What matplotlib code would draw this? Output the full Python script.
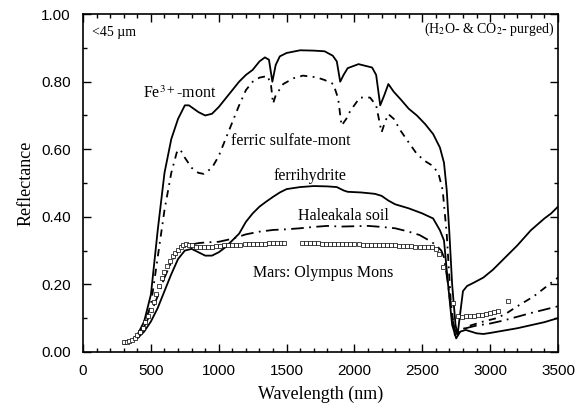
import numpy as np
import matplotlib
matplotlib.use("Agg")
import matplotlib.pyplot as plt
from matplotlib.ticker import MultipleLocator, FormatStrFormatter

plt.rcParams['mathtext.fontset'] = 'stix'

# Fe3+-montmorillonite (solid)
fe_wl = [300, 350, 400, 450, 500, 550, 600, 650, 700, 750, 780, 850, 900, 950, 1000,
         1050, 1100, 1150, 1200, 1250, 1300, 1340, 1370, 1395, 1420, 1450, 1500, 1600,
         1700, 1780, 1840, 1870, 1895, 1920, 1950, 2030, 2130, 2160, 2190, 2220, 2250,
         2290, 2340, 2400, 2460, 2520, 2580, 2630, 2660, 2680, 2700, 2720, 2745, 2760,
         2775, 2800, 2830, 2880, 2950, 3020, 3100, 3200, 3300, 3400, 3450, 3500]
fe_r = [0.025, 0.03, 0.05, 0.09, 0.17, 0.36, 0.53, 0.63, 0.69, 0.73, 0.73, 0.71, 0.70,
        0.705, 0.725, 0.75, 0.775, 0.80, 0.82, 0.835, 0.86, 0.872, 0.865, 0.80, 0.85,
        0.875, 0.885, 0.893, 0.892, 0.89, 0.877, 0.86, 0.80, 0.82, 0.84, 0.852, 0.842,
        0.82, 0.73, 0.76, 0.793, 0.77, 0.748, 0.72, 0.70, 0.675, 0.645, 0.605, 0.56,
        0.48, 0.35, 0.20, 0.08, 0.05, 0.10, 0.18, 0.195, 0.205, 0.22, 0.243, 0.275,
        0.315, 0.36, 0.395, 0.41, 0.43]

# ferric sulfate-montmorillonite (dash-dot)
fs_wl = [300, 350, 400, 450, 500, 550, 600, 650, 690, 715, 750, 800, 850, 890, 950,
         1000, 1050, 1100, 1150, 1200, 1250, 1300, 1360, 1385, 1400, 1420, 1475, 1550,
         1620, 1720, 1780, 1845, 1880, 1905, 1940, 1970, 2040, 2115, 2160, 2200, 2225,
         2250, 2290, 2340, 2400, 2460, 2520, 2580, 2620, 2650, 2680, 2710, 2740, 2770,
         2830, 2950, 3050, 3120, 3200, 3320, 3420, 3500]
fs_r = [0.025, 0.03, 0.045, 0.08, 0.14, 0.28, 0.42, 0.53, 0.59, 0.60, 0.575, 0.545,
        0.53, 0.527, 0.545, 0.58, 0.63, 0.68, 0.73, 0.775, 0.80, 0.812, 0.817, 0.79,
        0.735, 0.76, 0.793, 0.81, 0.818, 0.813, 0.805, 0.793, 0.75, 0.67, 0.69, 0.714,
        0.753, 0.753, 0.73, 0.65, 0.68, 0.704, 0.69, 0.655, 0.62, 0.586, 0.565, 0.55,
        0.527, 0.48, 0.35, 0.15, 0.05, 0.06, 0.075, 0.09, 0.10, 0.114, 0.135, 0.164,
        0.195, 0.22]

# ferrihydrite (solid)
fh_wl = [300, 350, 400, 450, 500, 550, 600, 650, 700, 750, 800, 850, 900, 950, 1000,
         1050, 1100, 1150, 1200, 1250, 1300, 1350, 1400, 1450, 1500, 1600, 1700, 1800,
         1870, 1920, 1950, 2050, 2150, 2200, 2250, 2300, 2400, 2500, 2580, 2630, 2660,
         2690, 2720, 2750, 2780, 2820, 2900, 2950, 3000, 3100, 3200, 3300, 3400, 3500]
fh_r = [0.025, 0.03, 0.04, 0.06, 0.09, 0.13, 0.18, 0.23, 0.275, 0.30, 0.305, 0.295,
        0.285, 0.285, 0.295, 0.31, 0.33, 0.35, 0.385, 0.41, 0.43, 0.445, 0.459, 0.472,
        0.482, 0.488, 0.491, 0.49, 0.488, 0.478, 0.474, 0.472, 0.468, 0.462, 0.448,
        0.437, 0.425, 0.41, 0.395, 0.36, 0.33, 0.20, 0.08, 0.04, 0.06, 0.065, 0.055,
        0.053, 0.056, 0.063, 0.07, 0.079, 0.088, 0.10]

# Haleakala soil (long dash-dot)
hs_wl = [300, 350, 400, 450, 500, 550, 600, 650, 700, 750, 800, 850, 900, 1000, 1100,
         1200, 1300, 1400, 1500, 1600, 1700, 1800, 1900, 2000, 2100, 2200, 2300, 2400,
         2480, 2550, 2600, 2640, 2660, 2690, 2720, 2750, 2780, 2820, 2900, 3000, 3100,
         3200, 3300, 3400, 3500]
hs_r = [0.025, 0.03, 0.045, 0.075, 0.115, 0.165, 0.22, 0.265, 0.30, 0.315, 0.318,
        0.322, 0.324, 0.326, 0.335, 0.348, 0.356, 0.361, 0.363, 0.366, 0.37, 0.373,
        0.371, 0.372, 0.373, 0.37, 0.366, 0.356, 0.346, 0.33, 0.317, 0.30, 0.28, 0.20,
        0.10, 0.05, 0.06, 0.07, 0.078, 0.084, 0.093, 0.104, 0.115, 0.125, 0.135]

# Mars: Olympus Mons (open squares)
mars_wl = [300, 320, 340, 360, 380, 400, 420, 440, 460, 480, 500, 520, 540, 560, 580,
           600, 620, 640, 660, 680, 700, 720, 740, 760, 780, 800, 830, 860, 890, 920,
           950, 980, 1010, 1040, 1070, 1100, 1130, 1160, 1190, 1220, 1250, 1280, 1310,
           1340, 1370, 1400, 1430, 1460, 1480,
           1610, 1640, 1670, 1700, 1730, 1760, 1790, 1820, 1850, 1880, 1910, 1940, 1970,
           2000, 2030, 2060, 2090, 2120, 2150, 2180, 2210, 2240, 2270, 2300, 2330, 2360,
           2390, 2420, 2450, 2480, 2510, 2540, 2570, 2600, 2625, 2655, 2730, 2760, 2790,
           2820, 2850, 2880, 2910, 2940, 2970, 3000, 3030, 3060, 3134]
mars_r = [0.03, 0.03, 0.032, 0.036, 0.042, 0.05, 0.06, 0.072, 0.088, 0.105, 0.125,
          0.148, 0.17, 0.195, 0.218, 0.238, 0.255, 0.27, 0.283, 0.294, 0.302, 0.31,
          0.315, 0.318, 0.317, 0.315, 0.312, 0.31, 0.31, 0.311, 0.312, 0.313, 0.314,
          0.315, 0.315, 0.316, 0.317, 0.317, 0.318, 0.318, 0.319, 0.319, 0.32, 0.32,
          0.321, 0.321, 0.321, 0.322, 0.322,
          0.322, 0.322, 0.321, 0.321, 0.321, 0.32, 0.32, 0.32, 0.319, 0.319, 0.319,
          0.318, 0.318, 0.318, 0.318, 0.317, 0.317, 0.317, 0.316, 0.316, 0.316, 0.315,
          0.315, 0.315, 0.314, 0.314, 0.313, 0.313, 0.312, 0.312, 0.311, 0.311, 0.31,
          0.305, 0.29, 0.25, 0.145, 0.105, 0.104, 0.105, 0.106, 0.107, 0.108, 0.11,
          0.112, 0.114, 0.117, 0.12, 0.15]

serif = 'Liberation Serif'
sans = 'Liberation Sans'

fig = plt.figure(figsize=(5.77, 4.04), dpi=100)
ax = fig.add_axes([0.144, 0.129, 0.823, 0.836])

ax.plot(fe_wl, fe_r, color='black', lw=1.3)
ax.plot(fs_wl, fs_r, color='black', lw=1.3, linestyle=(0, (4, 3, 1, 3)))
ax.plot(fh_wl, fh_r, color='black', lw=1.3)
ax.plot(hs_wl, hs_r, color='black', lw=1.3, linestyle=(0, (7, 3, 1, 3)))
ax.plot(mars_wl, mars_r, linestyle='none', marker='s', markersize=2.6,
        mfc='white', mec='black', mew=0.5)

ax.set_xlim(0, 3500)
ax.set_ylim(0, 1.0)
ax.xaxis.set_major_locator(MultipleLocator(500))
ax.xaxis.set_minor_locator(MultipleLocator(100))
ax.yaxis.set_major_locator(MultipleLocator(0.2))
ax.yaxis.set_minor_locator(MultipleLocator(0.1))
ax.yaxis.set_major_formatter(FormatStrFormatter('%.2f'))
ax.tick_params(which='both', direction='in', top=True, right=True, width=1)
ax.tick_params(which='major', length=6, pad=9, labelsize=11)
ax.tick_params(which='minor', length=3)
for lab in ax.get_xticklabels() + ax.get_yticklabels():
    lab.set_family(sans)
for s in ax.spines.values():
    s.set_linewidth(1.2)

ax.set_xlabel('Wavelength (nm)', family=serif, fontsize=13, labelpad=5)
ax.set_ylabel('Reflectance', family=serif, fontsize=13, labelpad=5)

ax.text(66, 0.947, '<45 µm', family=serif, fontsize=10, va='center')
ax.text(3470, 0.955, '(H$_2$O- & CO$_2$- purged)', family=serif, fontsize=10,
        ha='right', va='center')
ax.text(442, 0.763, 'Fe$^{3+}$-mont', family=serif, fontsize=11.5, va='center')
ax.text(1093, 0.625, 'ferric sulfate-mont', family=serif, fontsize=11.5, va='center')
ax.text(1400, 0.522, 'ferrihydrite', family=serif, fontsize=11.5, va='center')
ax.text(1587, 0.402, 'Haleakala soil', family=serif, fontsize=11.5, va='center')
ax.text(1255, 0.233, 'Mars: Olympus Mons', family=serif, fontsize=11.5, va='center')

fig.savefig('out.png', dpi=100)
